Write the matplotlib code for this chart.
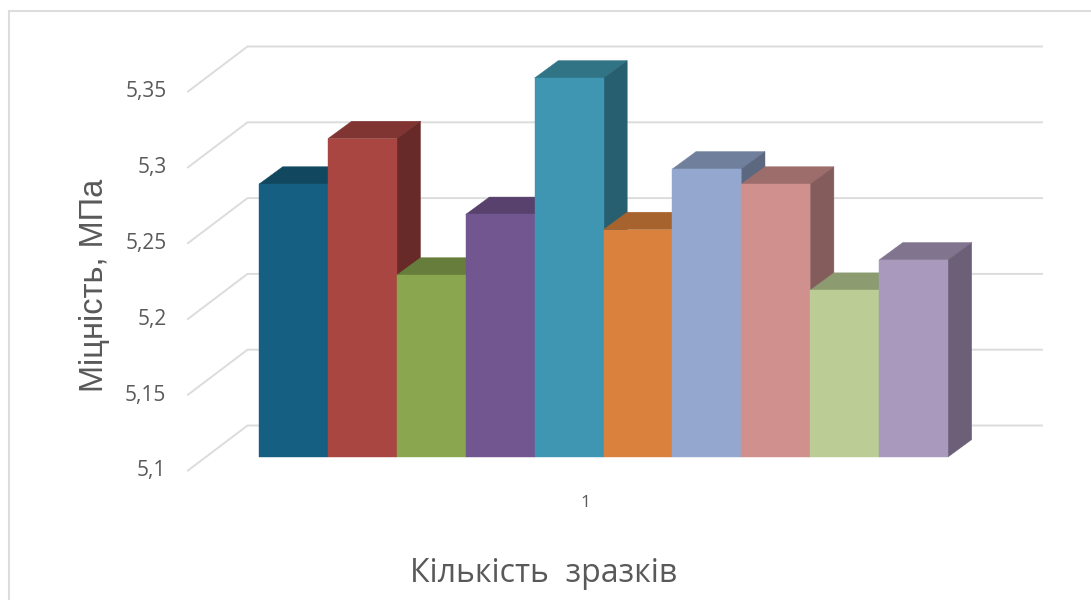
import matplotlib
matplotlib.use("Agg")
import matplotlib.pyplot as plt
from matplotlib.patches import Polygon

values = [5.28, 5.31, 5.22, 5.26, 5.35, 5.25, 5.29, 5.28, 5.21, 5.23]
front_colors = ["#156082", "#A94642", "#8AA64F", "#725690", "#3F96B2",
                "#DA813D", "#94A8CF", "#CF908E", "#BBCD94", "#A999BD"]
top_colors = ["#114860", "#803532", "#677D3B", "#58416D", "#307486",
              "#A6632E", "#707F9C", "#9D6D6C", "#8D9B70", "#80748F"]
side_colors = ["#0E3B50", "#682A28", "#536532", "#47355A", "#275F70",
               "#87512A", "#5C6880", "#845C5B", "#73805C", "#6B6077"]
y_ticks = [5.1, 5.15, 5.2, 5.25, 5.3, 5.35]
y_labels = ["5,1", "5,15", "5,2", "5,25", "5,3", "5,35"]
category = "1"
x_title = "Кількість  зразків"
y_title = "Міцність, МПа"

W, H = 1091, 600
BASE = 5.1
X0, BAR_W = 259.0, 68.9     # pixel position of the first bar, bar width
Y0, UNIT = 457.0, 1516.0    # pixel row of the baseline, pixels per MPa
DX, DY = 23.7 / BAR_W, 17.4 / UNIT   # bar depth in data units
GRID = "#DCDCDC"
TEXT = "#595959"

fig = plt.figure(figsize=(W / 100, H / 100), dpi=100, facecolor="white")
ax = fig.add_axes([0, 0, 1, 1])
ax.set_xlim(-X0 / BAR_W, (W - X0) / BAR_W)
ax.set_ylim(BASE - (H - Y0) / UNIT, BASE + Y0 / UNIT)
ax.axis("off")


def px_x(p):
    return (p - X0) / BAR_W


def px_dy(p):
    return p / UNIT


# outer chart frame: top and left only are inside the crop
ax.plot([px_x(8.5), px_x(8.5), px_x(W)],
        [BASE + px_dy(Y0 - H), BASE + px_dy(Y0 - 10.5), BASE + px_dy(Y0 - 10.5)],
        color="#DDDDDD", lw=1.5, solid_joinstyle="miter", clip_on=True)

# walls: gridlines and side-wall lines
for v, lab in zip(y_ticks, y_labels):
    front = v - px_dy(13.5)
    back = v + px_dy(31.5)
    ax.plot([px_x(188), px_x(247.5), px_x(1042)], [front, back, back],
            color=GRID, lw=1.4, solid_joinstyle="round", zorder=1)
    ax.text(px_x(166.5), front - px_dy(0.5), lab, ha="right", va="center",
            fontsize=15, color=TEXT, family=["Open Sans", "DejaVu Sans"])

# bars, painted left to right
for i, (v, fc, tc, sc) in enumerate(zip(values, front_colors, top_colors, side_colors)):
    z = 2 + i
    top = Polygon([(i, v), (i + DX, v + DY), (i + 1 + DX, v + DY), (i + 1, v)],
                  closed=True, facecolor=tc, edgecolor=tc, lw=0.3, zorder=z)
    side = Polygon([(i + 1, BASE), (i + 1 + DX, BASE + DY), (i + 1 + DX, v + DY), (i + 1, v)],
                   closed=True, facecolor=sc, edgecolor=sc, lw=0.3, zorder=z)
    ax.add_patch(top)
    ax.add_patch(side)
    ax.bar(i, v - BASE, width=1, bottom=BASE, align="edge", color=fc,
           edgecolor=fc, lw=0.3, zorder=z)

ax.text(px_x(585), BASE - px_dy(46), category, ha="center", va="center",
        fontsize=12.5, color=TEXT, family=["Open Sans", "DejaVu Sans"])
ax.text(px_x(544), BASE - px_dy(116), x_title, ha="center", va="center",
        fontsize=23, color=TEXT, family=["Open Sans", "DejaVu Sans"])
ax.text(px_x(94.5), BASE + px_dy(457 - 285), y_title, ha="center", va="center",
        rotation=90, fontsize=23.5, color=TEXT, family=["Liberation Sans", "DejaVu Sans"])

fig.savefig("out.png", dpi=100, facecolor="white")
